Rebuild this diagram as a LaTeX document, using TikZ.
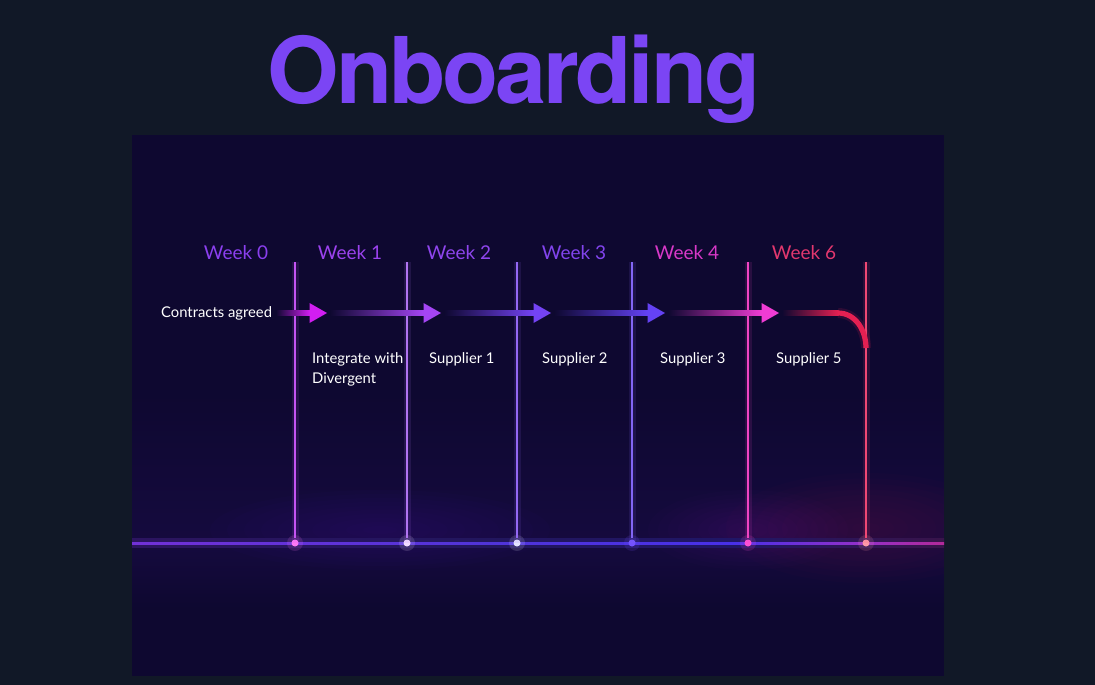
\documentclass[tikz,border=0pt]{standalone}
\usepackage{fontspec}
\setmainfont{Lato}
\newfontfamily\titlefont[LetterSpace=-3.5]{TeX Gyre Heros}
\usetikzlibrary{calc}
\definecolor{pagebg}{HTML}{111827}
\definecolor{panelbg}{HTML}{0E0830}
\definecolor{titlecol}{HTML}{7B45F4}
\definecolor{wkA}{HTML}{8A3FEE}
\definecolor{wkB}{HTML}{9B42EE}
\definecolor{wkC}{HTML}{8F45EE}
\definecolor{wkD}{HTML}{8244EE}
\definecolor{wkE}{HTML}{D838C8}
\definecolor{wkF}{HTML}{E2376E}
\definecolor{lnA}{HTML}{C454F2}
\definecolor{lnB}{HTML}{B174F2}
\definecolor{lnC}{HTML}{9468F4}
\definecolor{lnD}{HTML}{8266F4}
\definecolor{lnE}{HTML}{F044C4}
\definecolor{lnF}{HTML}{F04874}
\definecolor{dtA}{HTML}{FF78F4}
\definecolor{dtB}{HTML}{F2DCFF}
\definecolor{dtC}{HTML}{E4E4FF}
\definecolor{dtD}{HTML}{7452FF}
\definecolor{dtE}{HTML}{FF50D4}
\definecolor{dtF}{HTML}{FF9AA8}
\definecolor{arA}{HTML}{D21EF2}
\definecolor{arB}{HTML}{A545F4}
\definecolor{arC}{HTML}{7443F4}
\definecolor{arD}{HTML}{6442F4}
\definecolor{arE}{HTML}{F03CD4}
\definecolor{arF}{HTML}{E42052}
\definecolor{glowA}{HTML}{24105A}
\definecolor{glowR}{HTML}{A0205A}
\definecolor{glowM}{HTML}{9020A0}
\definecolor{glowV}{HTML}{6030C0}
\definecolor{bsA}{HTML}{5A20B0}
\definecolor{bsB}{HTML}{7A30D8}
\definecolor{bsC}{HTML}{5034D8}
\definecolor{bsD}{HTML}{4830E8}
\definecolor{bsE}{HTML}{9430C8}
\definecolor{bsF}{HTML}{B82890}
\definecolor{bsG}{HTML}{C82460}
\definecolor{bsH}{HTML}{901A40}
\definecolor{bgA}{HTML}{221048}
\definecolor{bgB}{HTML}{2E1460}
\definecolor{bgC}{HTML}{22165E}
\definecolor{bgD}{HTML}{201666}
\definecolor{bgE}{HTML}{3A1448}
\definecolor{bgF}{HTML}{421232}
\definecolor{bgG}{HTML}{260E28}
\pgfdeclarehorizontalshading{baseshade}{100bp}{%
  color(0bp)=(bsA); color(20bp)=(bsB); color(47bp)=(bsC);
  color(62bp)=(bsD); color(70bp)=(bsE); color(76bp)=(bsF);
  color(90bp)=(bsG); color(100bp)=(bsH)}
\pgfdeclarehorizontalshading{baseglow}{100bp}{%
  color(0bp)=(bgA); color(20bp)=(bgB); color(47bp)=(bgC);
  color(62bp)=(bgD); color(76bp)=(bgE); color(90bp)=(bgF); color(100bp)=(bgG)}
\tikzset{
  weeklabel/.style={font=\fontsize{19}{21}\selectfont, anchor=center, inner sep=0pt},
  steplabel/.style={font=\fontsize{14.8}{19.5}\selectfont, text=white, anchor=north west, inner sep=0pt, align=left},
  tickline/.style={line width=1.8pt},
  tickglow/.style={line width=7pt, opacity=0.12},
  dotnode/.style={circle, inner sep=0pt, minimum size=7pt},
}
\newcommand{\tlshaft}[4]{% start, end, tip, color
  \shade[left color=panelbg, right color=#4] ($(#1)+(0,-2.6)$) rectangle ($(#2)+(0,2.6)$);
  \fill[#4] ($(#2)+(-0.5,-10)$) -- (#3) -- ($(#2)+(-0.5,10)$) -- cycle;
}
% soft glow: centre x, centre y, rx, ry, colour
\newcommand{\softglow}[5]{%
  \foreach \k in {1,...,10}{
    \fill[#5, opacity=0.025] (#1,#2) ellipse ({#3*\k/10} and {#4*\k/10});
  }
}
\begin{document}
\begin{tikzpicture}[x=1pt,y=-1pt]
\useasboundingbox (0,0) rectangle (1095,685);
\fill[pagebg] (0,0) rectangle (1095,685);
% panel
\fill[panelbg] (132,135) rectangle (944,676);
\begin{scope}
\clip (132,135) rectangle (944,676);
\shade[top color=panelbg, bottom color=glowA, opacity=0.35] (132,380) rectangle (944,541);
\shade[top color=glowA, bottom color=panelbg, opacity=0.35] (132,545) rectangle (944,610);
\softglow{866}{528}{140}{55}{glowR}
\softglow{748}{530}{100}{40}{glowM}
\softglow{380}{530}{170}{40}{glowV}
\end{scope}

% title
\node[inner sep=0pt, anchor=base, text=titlecol] (title) at (514,103)
  {\titlefont\bfseries\fontsize{92}{92}\selectfont Onboarding};

% baseline
\shade[shading=baseglow] (132,538.5) rectangle (944,547.5);
\shade[shading=baseshade] (132,542) rectangle (944,544.2);

% tick lines: top coordinates and dots
\foreach \x/\n/\lc/\dc in {295/1/lnA/dtA, 407/2/lnB/dtB, 517/3/lnC/dtC, 632/4/lnD/dtD, 748/5/lnE/dtE, 866/6/lnF/dtF}{
  \coordinate (top\n) at (\x,262);
  \fill[\dc, opacity=0.15] (\x,543) circle (8);
  \node[dotnode, fill=\dc] (dot\n) at (\x,543) {};
  \draw[tickglow, \lc] (top\n) -- (dot\n.center);
  \draw[tickline, \lc] (top\n) -- ($(dot\n.north)+(0,-1.5)$);
}

% week labels
\node[weeklabel, text=wkA] (w0) at (236,253) {Week 0};
\node[weeklabel, text=wkB] (w1) at (350,253) {Week 1};
\node[weeklabel, text=wkC] (w2) at (459,253) {Week 2};
\node[weeklabel, text=wkD] (w3) at (574,253) {Week 3};
\node[weeklabel, text=wkE] (w4) at (687,253) {Week 4};
\node[weeklabel, text=wkF] (w6) at (804,253) {Week 6};

% arrows
\coordinate (s1) at (276,313); \coordinate (e1) at (310,313); \coordinate (t1) at (327,313);
\coordinate (s2) at (330,313); \coordinate (e2) at (424,313); \coordinate (t2) at (441,313);
\coordinate (s3) at (444,313); \coordinate (e3) at (534,313); \coordinate (t3) at (551,313);
\coordinate (s4) at (554,313); \coordinate (e4) at (648,313); \coordinate (t4) at (665,313);
\coordinate (s5) at (668,313); \coordinate (e5) at (762,313); \coordinate (t5) at (779,313);
\tlshaft{s1}{e1}{t1}{arA}
\tlshaft{s2}{e2}{t2}{arB}
\tlshaft{s3}{e3}{t3}{arC}
\tlshaft{s4}{e4}{t4}{arD}
\tlshaft{s5}{e5}{t5}{arE}
\coordinate (s6) at (782,313); \coordinate (e6) at (838,313); \coordinate (c6) at (866,348);
\shade[left color=panelbg, right color=arF] (782,310.4) rectangle (838.5,315.6);
\draw[arF, line width=10pt, opacity=0.15] (e6) to[out=0, in=90] (c6);
\draw[arF, line width=5.2pt] (e6) to[out=0, in=90] (c6);

% step labels
\node[steplabel, anchor=west] (l0) at (161,313) {Contracts agreed};
\node[steplabel] (l1) at (312,352.5) {Integrate with\\Divergent};
\node[steplabel] (l2) at (429,352.5) {Supplier 1};
\node[steplabel] (l3) at (542,352.5) {Supplier 2};
\node[steplabel] (l4) at (660,352.5) {Supplier 3};
\node[steplabel] (l5) at (776,352.5) {Supplier 5};
\end{tikzpicture}
\end{document}
